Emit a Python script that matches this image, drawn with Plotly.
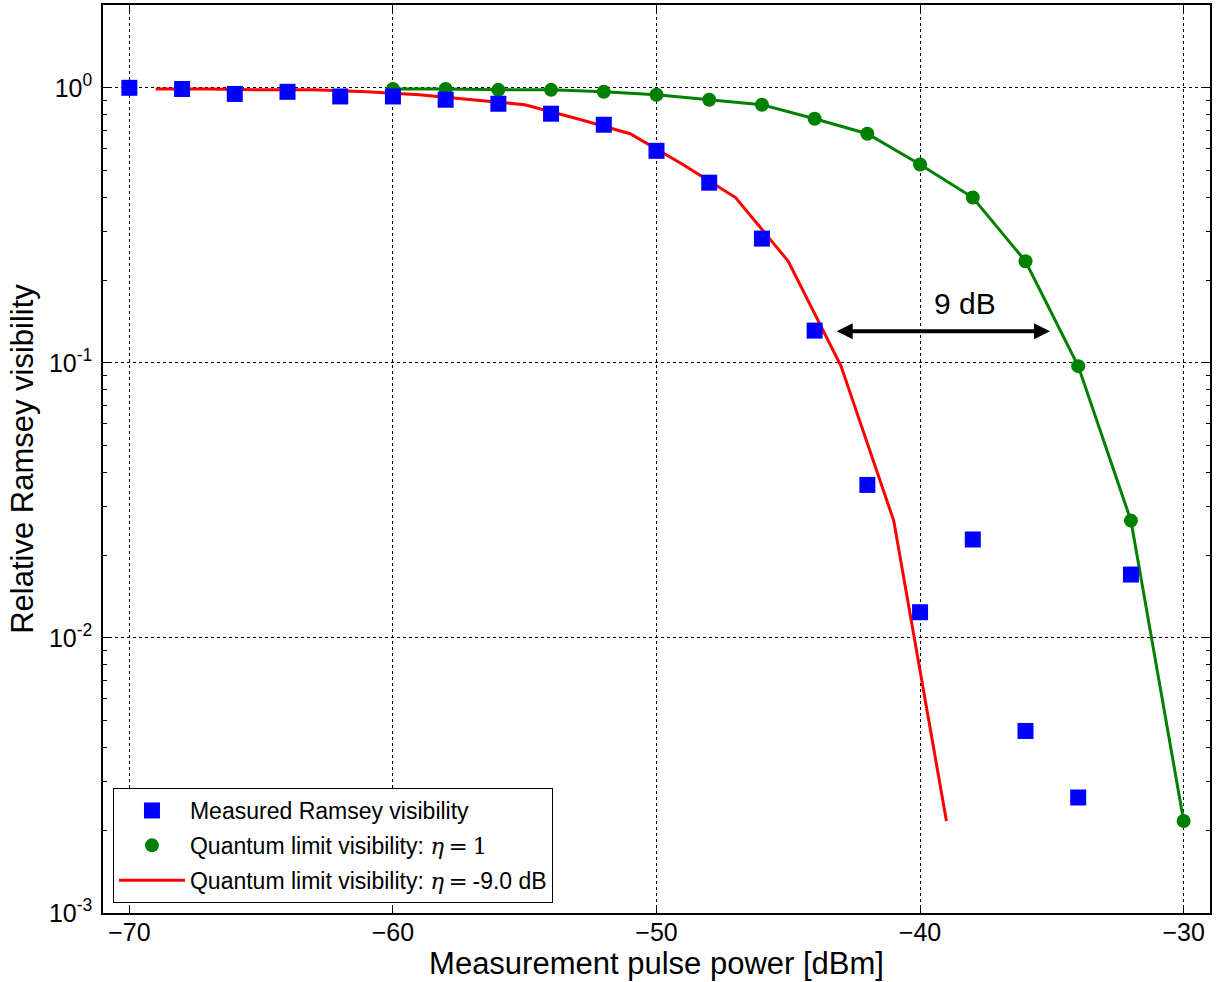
import plotly.graph_objects as go

# Measured Ramsey visibility
meas_x = [-70, -68, -66, -64, -62, -60, -58, -56, -54, -52, -50, -48, -46, -44, -42, -40, -38, -36, -34, -32]
meas_y = [1.0, 0.99, 0.95, 0.967, 0.93, 0.93, 0.905, 0.875, 0.805, 0.734, 0.59, 0.452, 0.283, 0.131, 0.036, 0.0124, 0.0228, 0.00459, 0.00263, 0.017]

# Quantum limit eta = 1
ql1_x = [-60, -58, -56, -54, -52, -50, -48, -46, -44, -42, -40, -38, -36, -34, -32, -30]
ql1_y = [0.99, 0.99, 0.983, 0.983, 0.967, 0.943, 0.905, 0.868, 0.772, 0.681, 0.526, 0.399, 0.234, 0.0973, 0.0267, 0.00216]

# Quantum limit eta = -9 dB
ql9_x = [-69, -67, -65, -63, -61, -59, -57, -55, -53, -51, -49, -47, -45, -43, -41, -39]
ql9_y = [0.99, 0.99, 0.983, 0.983, 0.967, 0.943, 0.905, 0.868, 0.772, 0.681, 0.526, 0.399, 0.234, 0.0973, 0.0267, 0.00216]

x_ticks = [-70, -60, -50, -40, -30]
x_ticktext = ["\u221270", "\u221260", "\u221250", "\u221240", "\u221230"]
y_ticks = [1, 0.1, 0.01, 0.001]
y_ticktext = ["10<sup>0</sup>", "10<sup>-1</sup>", "10<sup>-2</sup>", "10<sup>-3</sup>"]

FONT = "Liberation Sans, Arial, Helvetica, sans-serif"
ETA = "<span style='font-family:DejaVu Serif;font-style:italic'>η</span>"
EQ = "<span style='font-family:DejaVu Serif'>\u2009=\u2009</span>"

fig = go.Figure()
fig.add_trace(go.Scatter(x=ql9_x, y=ql9_y, mode="lines", line=dict(color="#ff0000", width=3),
                         name="Quantum limit visibility: " + ETA + EQ + "-9.0 dB", legendrank=3,
                         legendgroup="c"))
fig.add_trace(go.Scatter(x=ql1_x, y=ql1_y, mode="lines", line=dict(color="#008000", width=3),
                         showlegend=False, legendgroup="b", hoverinfo="skip"))
fig.add_trace(go.Scatter(x=ql1_x, y=ql1_y, mode="markers",
                         marker=dict(symbol="circle", size=14, color="#008000"),
                         name="Quantum limit visibility: " + ETA + EQ + "<span style='font-family:DejaVu Serif'>1</span>",
                         legendrank=2, legendgroup="b"))
fig.add_trace(go.Scatter(x=meas_x, y=meas_y, mode="markers",
                         marker=dict(symbol="square", size=16, color="#0000ff"),
                         name="Measured Ramsey visibility", legendrank=1, legendgroup="a"))

fig.add_annotation(x=-35.07, y=-0.885, ax=-43.22, ay=-0.885, xref="x", yref="y", axref="x", ayref="y",
                   text="", showarrow=True, arrowhead=2, arrowside="end+start", arrowsize=0.8,
                   arrowwidth=4, arrowcolor="black")
fig.add_annotation(x=-38.29, y=-0.783, xref="x", yref="y", text="9 dB", showarrow=False,
                   font=dict(size=30, color="black", family=FONT))

axis_common = dict(showline=True, linecolor="black", linewidth=1.5, mirror="ticks",
                   ticks="inside", ticklen=8, tickcolor="black", tickwidth=1,
                   showgrid=True, gridcolor="black", griddash="dot", gridwidth=1.3,
                   zeroline=False, layer="above traces", automargin=False,
                   tickfont=dict(size=25, color="black", family=FONT))

fig.update_xaxes(range=[-71, -29], tickvals=x_ticks, ticktext=x_ticktext, ticklabelstandoff=-4,
                 title=dict(text="Measurement pulse power [dBm]", font=dict(size=31, color="black", family=FONT), standoff=2),
                 **axis_common)
fig.update_yaxes(type="log", range=[-3, 0.301], tickvals=y_ticks, ticktext=y_ticktext, ticklabelstandoff=4,
                 title=dict(text="Relative Ramsey visibility", font=dict(size=31, color="black", family=FONT), standoff=6),
                 minor=dict(ticks="inside", ticklen=4, tickcolor="black", dtick="D1", showgrid=False),
                 **axis_common)

fig.update_layout(
    width=1222, height=982,
    margin=dict(l=103, r=12, t=5, b=69),
    plot_bgcolor="white", paper_bgcolor="white",
    font=dict(family=FONT, color="black"),
    legend=dict(x=0.009, y=0.011, xanchor="left", yanchor="bottom",
                bordercolor="black", borderwidth=1, bgcolor="white",
                font=dict(size=23, color="black", family=FONT), itemwidth=66,
                tracegroupgap=2, traceorder="grouped"),
    showlegend=True,
)

fig.write_html("out.html", config={"displayModeBar": False},
               post_script="document.body.style.margin='0';document.body.style.overflow='hidden';")
